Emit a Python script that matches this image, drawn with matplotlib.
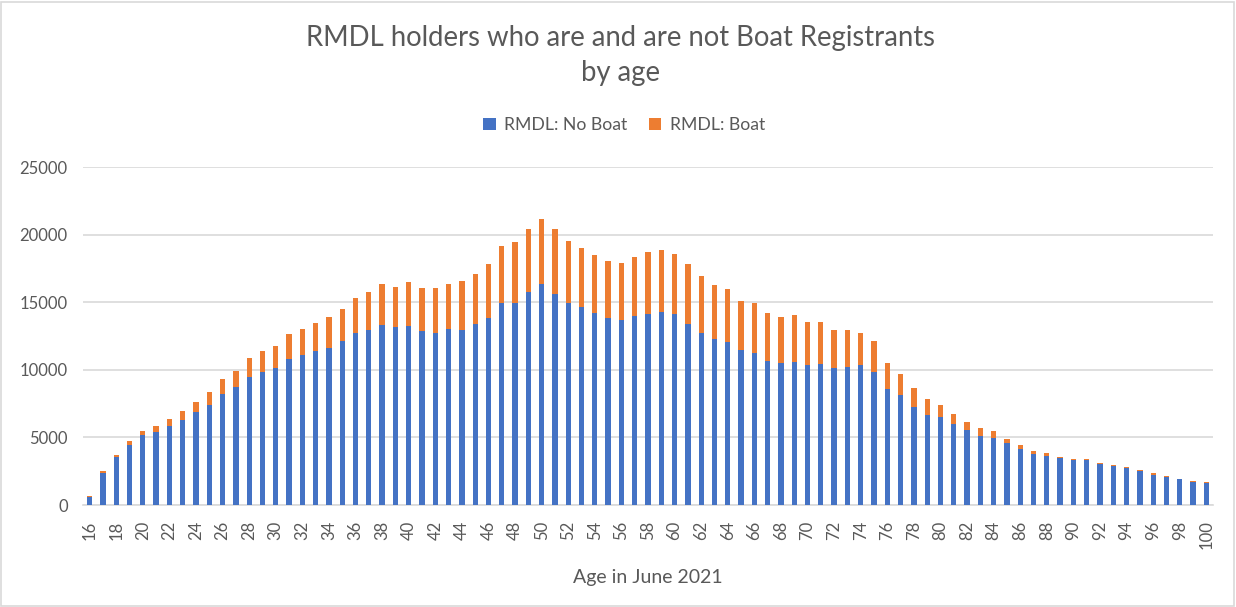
import matplotlib
matplotlib.use("Agg")
import matplotlib.pyplot as plt
from matplotlib.patches import Rectangle
import numpy as np

ages = list(range(16, 101))
no_boat = [600, 2400, 3570, 4450, 5170, 5390, 5860, 6300, 6890, 7430,
           8190, 8710, 9470, 9870, 10160, 10780, 11070, 11370, 11590, 12130,
           12690, 12920, 13280, 13140, 13210, 12840, 12690, 12990, 12920, 13380,
           13830, 14910, 14960, 15720, 16330, 15570, 14960, 14660, 14190, 13830,
           13680, 13970, 14120, 14270, 14120, 13380, 12690, 12300, 12050, 11460,
           11240, 10630, 10480, 10550, 10330, 10410, 10110, 10180, 10330, 9870,
           8590, 8120, 7280, 6670, 6520, 5980, 5540, 5120, 4990, 4580,
           4130, 3790, 3620, 3440, 3300, 3300, 3000, 2850, 2710, 2490,
           2240, 2090, 1890, 1720, 1650]
total = [660, 2510, 3715, 4700, 5460, 5830, 6370, 6960, 7650, 8340,
         9320, 9940, 10850, 11370, 11760, 12620, 12990, 13430, 13880, 14490,
         15280, 15720, 16330, 16160, 16480, 16040, 16040, 16330, 16560, 17100,
         17790, 19160, 19460, 20440, 21130, 20440, 19530, 18990, 18520, 18080,
         17910, 18380, 18700, 18840, 18600, 17840, 16930, 16240, 15940, 15100,
         14960, 14190, 13900, 14050, 13510, 13510, 12920, 12920, 12740, 12150,
         10480, 9690, 8640, 7820, 7430, 6720, 6130, 5680, 5440, 4900,
         4430, 3990, 3840, 3540, 3370, 3370, 3080, 2950, 2780, 2560,
         2340, 2170, 1940, 1770, 1720]
boat = [t - n for t, n in zip(total, no_boat)]

BLUE = "#4472C4"
ORANGE = "#ED7D31"
GRID = "#D9D9D9"
TXT = "#595959"
FONT = ["Lato", "DejaVu Sans"]
plt.rcParams["font.family"] = FONT

fig = plt.figure(figsize=(12.36, 6.07), dpi=100)
fig.patches.append(Rectangle((0.001, 0.002), 0.997, 0.995, transform=fig.transFigure,
                             fill=False, edgecolor=GRID, linewidth=1.2))
ax = fig.add_axes([83/1236, (607-505)/607, (1213-83)/1236, (505-167)/607])

x = np.arange(len(ages))
w = 0.4
ax.bar(x, no_boat, width=w, color=BLUE, label="RMDL: No Boat", zorder=3)
ax.bar(x, boat, width=w, bottom=no_boat, color=ORANGE, label="RMDL: Boat", zorder=3)

ax.set_xlim(-0.5, len(ages) - 0.5)
ax.set_ylim(0, 25000)
ax.set_yticks(np.arange(0, 25001, 5000))
ax.set_yticklabels([str(v) for v in range(0, 25001, 5000)])
ax.yaxis.grid(True, color=GRID, linewidth=1.2, zorder=0)
ax.set_xticks(x[::2])
ax.set_xticklabels([str(a) for a in ages[::2]], rotation=90)
ax.tick_params(axis="y", length=0, pad=11, labelsize=12, labelcolor=TXT)
ax.tick_params(axis="x", length=0, pad=11, labelsize=12, labelcolor=TXT)
for s in ["top", "right", "left"]:
    ax.spines[s].set_visible(False)
ax.spines["bottom"].set_color(GRID)
ax.spines["bottom"].set_linewidth(1.2)

ax.set_xlabel("Age in June 2021", fontsize=14, color=TXT, labelpad=14)

fig.text(0.502, 0.937, "RMDL holders who are and are not Boat Registrants",
         ha="center", va="center", fontsize=19.8, color=TXT)
fig.text(0.502, 0.879, "by age", ha="center", va="center", fontsize=19.8, color=TXT)

leg = fig.legend(loc="center", bbox_to_anchor=(0.505, 0.794), ncol=2, frameon=False,
                 fontsize=12.7, handlelength=0.7, handleheight=0.7, handletextpad=0.5,
                 columnspacing=1.2, labelcolor=TXT)

fig.savefig("out.png", dpi=100)
